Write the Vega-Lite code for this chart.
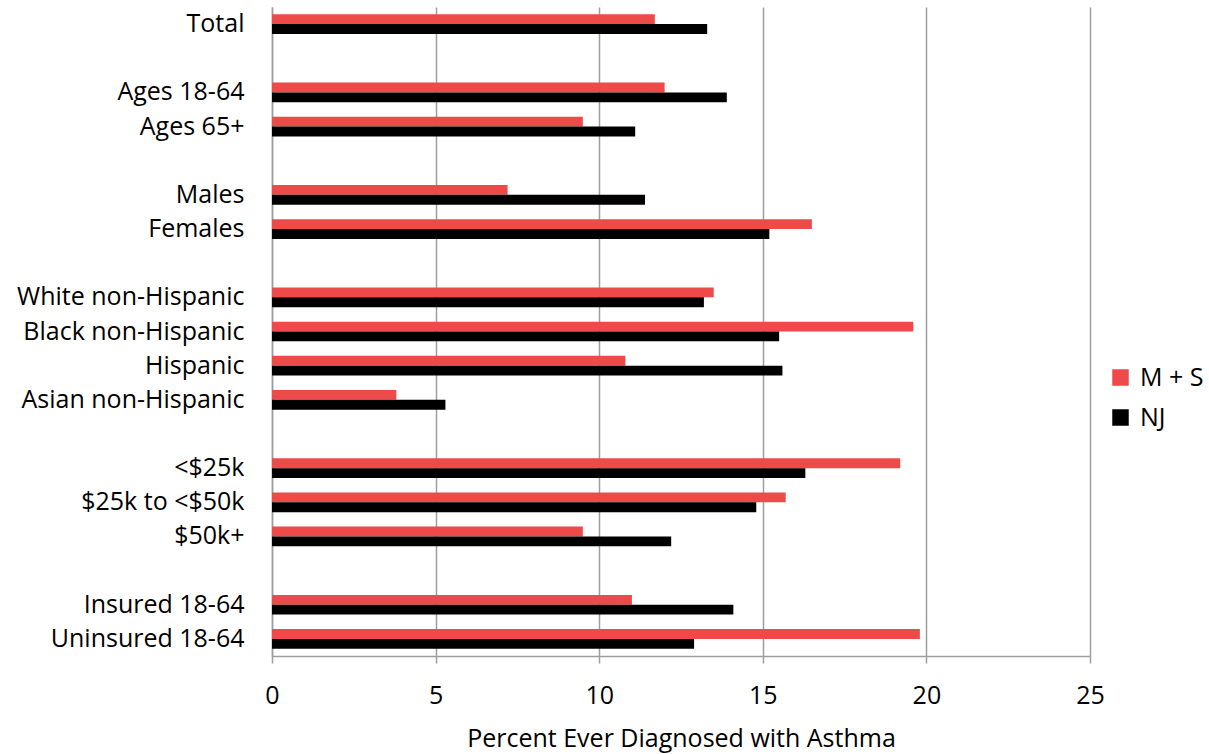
{
  "$schema": "https://vega.github.io/schema/vega-lite/v6.json",
  "width": 818,
  "height": 649,
  "autosize": "none",
  "padding": {"left": 272, "top": 7, "right": 119, "bottom": 98},
  "background": "white",
  "config": {
    "font": "Open Sans",
    "view": {"stroke": null},
    "axis": {"labelFont": "Open Sans", "titleFont": "Open Sans", "labelColor": "#000000", "titleColor": "#000000", "titleFontWeight": "normal"}
  },
  "data": {
    "values": [
      {"group": "Total", "series": "M + S", "value": 11.7},
      {"group": "Total", "series": "NJ", "value": 13.3},
      {"group": "Ages 18-64", "series": "M + S", "value": 12.0},
      {"group": "Ages 18-64", "series": "NJ", "value": 13.9},
      {"group": "Ages 65+", "series": "M + S", "value": 9.5},
      {"group": "Ages 65+", "series": "NJ", "value": 11.1},
      {"group": "Males", "series": "M + S", "value": 7.2},
      {"group": "Males", "series": "NJ", "value": 11.4},
      {"group": "Females", "series": "M + S", "value": 16.5},
      {"group": "Females", "series": "NJ", "value": 15.2},
      {"group": "White non-Hispanic", "series": "M + S", "value": 13.5},
      {"group": "White non-Hispanic", "series": "NJ", "value": 13.2},
      {"group": "Black non-Hispanic", "series": "M + S", "value": 19.6},
      {"group": "Black non-Hispanic", "series": "NJ", "value": 15.5},
      {"group": "Hispanic", "series": "M + S", "value": 10.8},
      {"group": "Hispanic", "series": "NJ", "value": 15.6},
      {"group": "Asian non-Hispanic", "series": "M + S", "value": 3.8},
      {"group": "Asian non-Hispanic", "series": "NJ", "value": 5.3},
      {"group": "<$25k\u00a0", "series": "M + S", "value": 19.2},
      {"group": "<$25k\u00a0", "series": "NJ", "value": 16.3},
      {"group": "$25k to <$50k", "series": "M + S", "value": 15.7},
      {"group": "$25k to <$50k", "series": "NJ", "value": 14.8},
      {"group": "$50k+", "series": "M + S", "value": 9.5},
      {"group": "$50k+", "series": "NJ", "value": 12.2},
      {"group": "Insured 18-64", "series": "M + S", "value": 11.0},
      {"group": "Insured 18-64", "series": "NJ", "value": 14.1},
      {"group": "Uninsured 18-64", "series": "M + S", "value": 19.8},
      {"group": "Uninsured 18-64", "series": "NJ", "value": 12.9}
    ]
  },
  "mark": {"type": "bar"},
  "encoding": {
    "y": {
      "field": "group",
      "type": "nominal",
      "scale": {
        "domain": ["Total", "gap1", "Ages 18-64", "Ages 65+", "gap2", "Males", "Females", "gap3", "White non-Hispanic", "Black non-Hispanic", "Hispanic", "Asian non-Hispanic", "gap4", "<$25k\u00a0", "$25k to <$50k", "$50k+", "gap5", "Insured 18-64", "Uninsured 18-64"],
        "paddingInner": 0,
        "paddingOuter": 0
      },
      "axis": {
        "title": null,
        "ticks": false,
        "labelPadding": 28,
        "labelFontSize": 25,
        "labelExpr": "(datum.value === 'gap1' || datum.value === 'gap2' || datum.value === 'gap3' || datum.value === 'gap4' || datum.value === 'gap5') ? '' : datum.value",
        "domainColor": "#9E9E9E",
        "domainWidth": 1.5,
        "grid": false,
        "labelLimit": 400
      }
    },
    "yOffset": {
      "field": "series",
      "type": "nominal",
      "sort": ["M + S", "NJ"],
      "scale": {"paddingInner": 0, "paddingOuter": 0.734}
    },
    "x": {
      "field": "value",
      "type": "quantitative",
      "scale": {"domain": [0, 25], "nice": false},
      "axis": {
        "title": "Percent Ever Diagnosed with Asthma",
        "titleFontSize": 25,
        "titlePadding": 18,
        "values": [0, 5, 10, 15, 20, 25],
        "labelFontSize": 25,
        "labelPadding": 20,
        "labelFlush": false,
        "tickSize": 7,
        "tickColor": "#9E9E9E",
        "tickWidth": 1.5,
        "domainColor": "#9E9E9E",
        "domainWidth": 1.5,
        "grid": true,
        "gridColor": "#9E9E9E",
        "gridWidth": 1.5
      }
    },
    "color": {
      "field": "series",
      "type": "nominal",
      "scale": {"domain": ["M + S", "NJ"], "range": ["#EE4A4A", "#000000"]},
      "legend": {
        "title": null,
        "orient": "none",
        "legendX": 836,
        "legendY": 358,
        "padding": 0,
        "symbolType": "square",
        "symbolSize": 272,
        "symbolStrokeWidth": 0,
        "symbolOffset": 0,
        "labelFontSize": 25,
        "labelOffset": 7,
        "labelColor": "#000000",
        "rowPadding": 14
      }
    }
  }
}
